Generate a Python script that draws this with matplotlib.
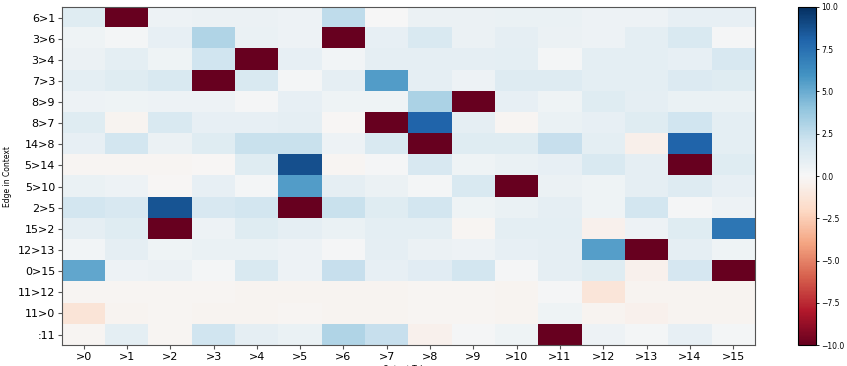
import numpy as np
import matplotlib
matplotlib.use("Agg")
import matplotlib.pyplot as plt

edges = ["6>1", "3>6", "3>4", "7>3", "8>9", "8>7", "14>8", "5>14",
         "5>10", "2>5", "15>2", "12>13", "0>15", "11>12", "11>0", ":11"]
tokens = [">0", ">1", ">2", ">3", ">4", ">5", ">6", ">7",
          ">8", ">9", ">10", ">11", ">12", ">13", ">14", ">15"]

r_6_1   = [1.2, -10, 0.5, 0.6, 0.6, 0.5, 2.5, 0.0, 0.6, 0.6, 0.7, 0.7, 0.5, 0.5, 0.8, 0.8]
r_3_6   = [0.4, 0.2, 0.8, 3.0, 0.7, 0.5, -10, 0.8, 1.5, 0.6, 0.9, 0.6, 0.5, 1.0, 1.5, 0.1]
r_3_4   = [0.6, 1.0, 0.4, 2.0, -10, 0.8, 0.3, 0.9, 0.9, 0.9, 1.0, 0.2, 1.0, 1.0, 0.8, 1.6]
r_7_3   = [1.0, 1.2, 1.5, -10, 1.5, 0.2, 0.9, 5.6, 0.9, 0.5, 1.3, 1.3, 1.0, 1.0, 1.4, 1.2]
r_8_9   = [0.5, 0.4, 0.5, 0.5, 0.1, 0.8, 0.4, 0.4, 3.2, -10, 0.8, 0.4, 1.2, 0.9, 0.7, 0.7]
r_8_7   = [1.2, -0.3, 1.5, 0.8, 0.8, 0.9, -0.1, -10, 8.0, 0.9, -0.2, 0.7, 0.8, 1.2, 2.0, 1.0]
r_14_8  = [0.8, 1.8, 0.6, 1.2, 2.2, 2.2, 0.5, 1.5, -10, 1.2, 1.2, 2.3, 1.0, -0.5, 8.0, 1.0]
r_5_14  = [-0.2, -0.2, -0.2, -0.1, 1.2, 8.8, -0.2, 0.1, 1.6, 0.4, 0.7, 0.8, 1.5, 0.9, -10, 1.2]
r_5_10  = [0.7, 0.5, -0.1, 0.8, 0.2, 5.6, 0.9, 0.6, 0.2, 1.5, -10, 0.6, 0.4, 0.9, 1.3, 0.8]
r_2_5   = [1.8, 1.6, 8.6, 1.6, 1.8, -10, 2.2, 1.2, 1.8, 0.4, 0.7, 0.9, 0.4, 1.8, 0.1, 0.5]
r_15_2  = [0.9, 1.2, -10, 0.5, 1.2, 0.9, 0.7, 1.0, 1.0, -0.2, 1.0, 1.0, -0.4, 0.5, 1.2, 7.2]
r_12_13 = [0.3, 0.9, 0.4, 0.7, 0.7, 0.5, 0.1, 0.9, 0.6, 0.5, 0.8, 0.9, 5.5, -10, 0.9, 0.4]
r_0_15  = [5.2, 0.5, 0.6, 0.2, 1.5, 0.5, 2.3, 0.8, 1.1, 1.8, 0.1, 0.9, 1.2, -0.4, 1.7, -10]
r_11_12 = [-0.2, -0.2, -0.2, -0.2, -0.3, -0.3, -0.3, -0.3, -0.2, -0.2, -0.3, 0.1, -1.2, -0.3, -0.3, -0.3]
r_11_0  = [-1.3, -0.3, -0.2, -0.3, -0.3, -0.2, -0.3, -0.3, -0.2, -0.2, -0.3, 0.4, -0.3, -0.4, -0.3, -0.3]
r_11    = [-0.2, 1.0, -0.2, 2.0, 0.9, 0.7, 3.0, 2.3, -0.4, 0.1, 0.4, -10, 0.5, 0.2, 0.8, 0.2]

values = np.array([r_6_1, r_3_6, r_3_4, r_7_3, r_8_9, r_8_7, r_14_8, r_5_14,
                   r_5_10, r_2_5, r_15_2, r_12_13, r_0_15, r_11_12, r_11_0, r_11])

fig = plt.figure(figsize=(8.47, 3.66), dpi=100)
ax = fig.add_axes([0.0732, 0.057, 0.818, 0.924])
cax = fig.add_axes([0.942, 0.057, 0.021, 0.924])

im = ax.imshow(values, cmap="RdBu", vmin=-10, vmax=10, aspect="auto",
               interpolation="nearest")

ax.set_xticks(range(len(tokens)))
ax.set_xticklabels(tokens, fontsize=8)
ax.set_yticks(range(len(edges)))
ax.set_yticklabels(edges, fontsize=8)
ax.set_ylabel("Edge in Context", fontsize=5.5)
ax.set_xlabel("Output Token", fontsize=5.5, labelpad=2)
for s in ax.spines.values():
    s.set_color("#555555")
ax.tick_params(length=3, width=0.8, color="#555555", pad=2)

cb = fig.colorbar(im, cax=cax)
cb.set_ticks([10, 7.5, 5, 2.5, 0, -2.5, -5, -7.5, -10])
cb.ax.tick_params(labelsize=5.5, length=2.5, width=0.6, pad=1.5)
cb.outline.set_linewidth(0.8)

fig.savefig("out.png", dpi=100)
